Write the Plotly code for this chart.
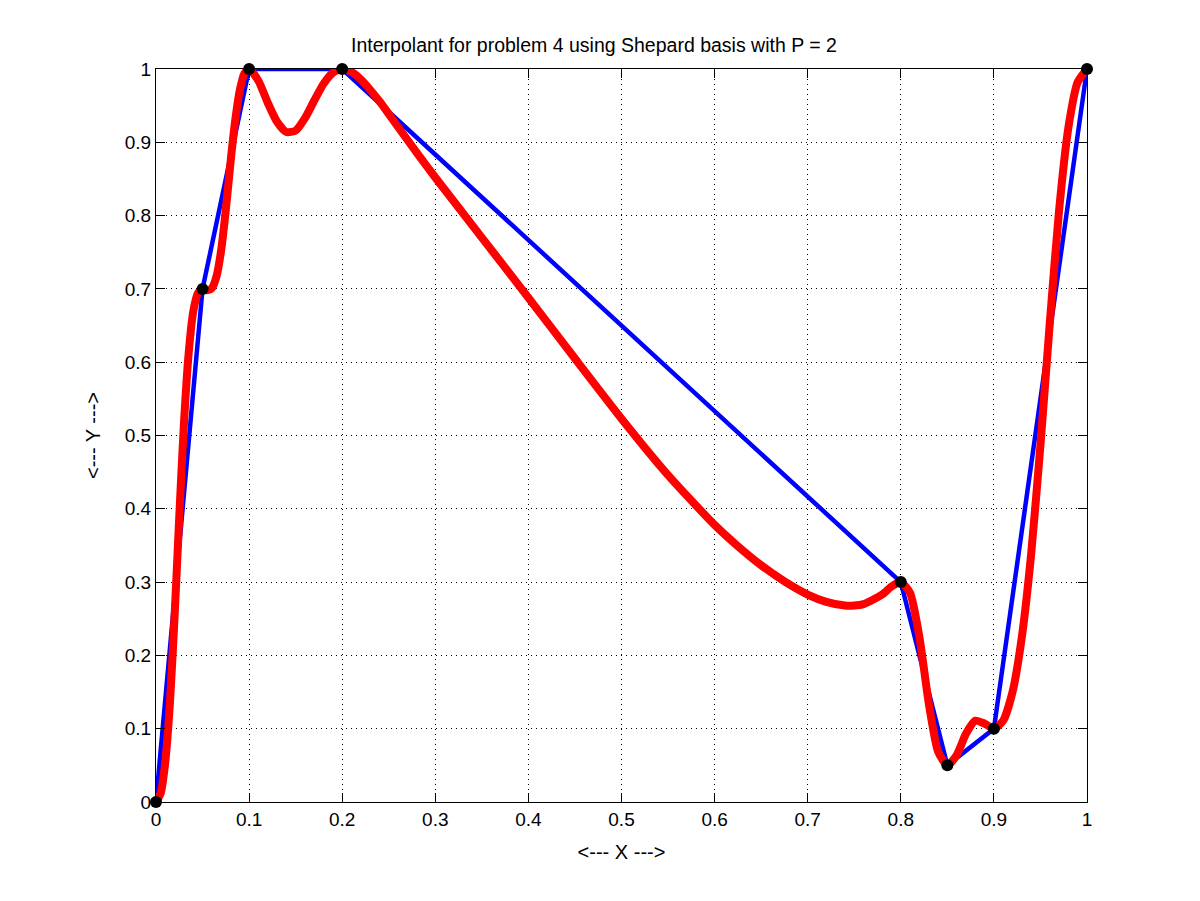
import plotly.graph_objects as go

# data points
x_data = [0.0, 0.05, 0.1, 0.2, 0.8, 0.85, 0.9, 1.0]
y_data = [0.0, 0.7, 1.0, 1.0, 0.3, 0.05, 0.1, 1.0]

# Shepard interpolant
x_red = [0.0, 0.005, 0.01, 0.015, 0.02, 0.025, 0.03, 0.035, 0.04, 0.045, 0.05,
         0.055, 0.06, 0.065, 0.07, 0.075, 0.08, 0.085, 0.09, 0.095, 0.1,
         0.11, 0.12, 0.13, 0.14, 0.15, 0.16, 0.17, 0.18, 0.19, 0.2,
         0.21, 0.22, 0.24, 0.26, 0.28, 0.3, 0.35, 0.4, 0.45, 0.5, 0.55, 0.6,
         0.625, 0.65, 0.675, 0.7, 0.72, 0.74, 0.75, 0.76, 0.78, 0.79, 0.8,
         0.81, 0.82, 0.83, 0.84, 0.85, 0.86, 0.87, 0.88, 0.89, 0.9,
         0.91, 0.92, 0.93, 0.94, 0.95, 0.96, 0.97, 0.98, 0.99, 1.0]
y_red = [0.0, 0.012, 0.055, 0.136, 0.254, 0.39, 0.516, 0.611, 0.669, 0.694, 0.7,
         0.698, 0.701, 0.717, 0.753, 0.808, 0.872, 0.929, 0.971, 0.994, 1.0,
         0.984, 0.954, 0.928, 0.914, 0.916, 0.933, 0.957, 0.980, 0.995, 1.0,
         0.996, 0.986, 0.956, 0.921, 0.886, 0.852, 0.770, 0.688, 0.605, 0.523, 0.446, 0.378,
         0.349, 0.323, 0.301, 0.283, 0.273, 0.268, 0.268, 0.270, 0.283, 0.294, 0.3,
         0.285, 0.225, 0.135, 0.069, 0.05, 0.064, 0.093, 0.111, 0.107, 0.1,
         0.111, 0.150, 0.225, 0.338, 0.487, 0.653, 0.807, 0.920, 0.982, 1.0]

ticks = [0, 0.1, 0.2, 0.3, 0.4, 0.5, 0.6, 0.7, 0.8, 0.9, 1]
tick_text = ["0", "0.1", "0.2", "0.3", "0.4", "0.5", "0.6", "0.7", "0.8", "0.9", "1"]

FONT = "Liberation Sans, Arial, Helvetica, sans-serif"

fig = go.Figure()
fig.add_trace(go.Scatter(x=x_data, y=y_data, mode="lines", cliponaxis=False,
                         line=dict(color="#0000ff", width=4.5), showlegend=False))
fig.add_trace(go.Scatter(x=x_red, y=y_red, mode="lines", cliponaxis=False,
                         line=dict(color="#ff0000", width=8, shape="spline", smoothing=0.6),
                         showlegend=False))
fig.add_trace(go.Scatter(x=x_data, y=y_data, mode="markers", cliponaxis=False,
                         marker=dict(color="black", size=12), showlegend=False))

axis_common = dict(
    range=[0, 1], tickvals=ticks, ticktext=tick_text,
    showgrid=True, gridcolor="black", griddash="1px,4px", gridwidth=1,
    showline=True, linecolor="black", linewidth=1, mirror="ticks",
    ticks="inside", ticklen=9, tickcolor="black", tickwidth=1,
    zeroline=False,
    tickfont=dict(family=FONT, size=19, color="black"),
)

fig.update_layout(
    width=1200, height=901,
    paper_bgcolor="white", plot_bgcolor="white",
    margin=dict(l=148, r=121, t=61, b=107),
    title=dict(text="Interpolant for problem 4 using Shepard basis with P = 2",
               x=586 / 1200, xref="container", xanchor="center",
               y=1 - 37 / 901, yref="container", yanchor="middle",
               font=dict(family=FONT, size=19.5, color="black")),
    xaxis=dict(axis_common, title=dict(text="&lt;--- X ---&gt;", standoff=16,
                                       font=dict(family=FONT, size=20, color="black"))),
    yaxis=dict(axis_common, title=dict(text="&lt;--- Y ---&gt;", standoff=18,
                                       font=dict(family=FONT, size=20, color="black"))),
)

fig.write_html("out.html")
